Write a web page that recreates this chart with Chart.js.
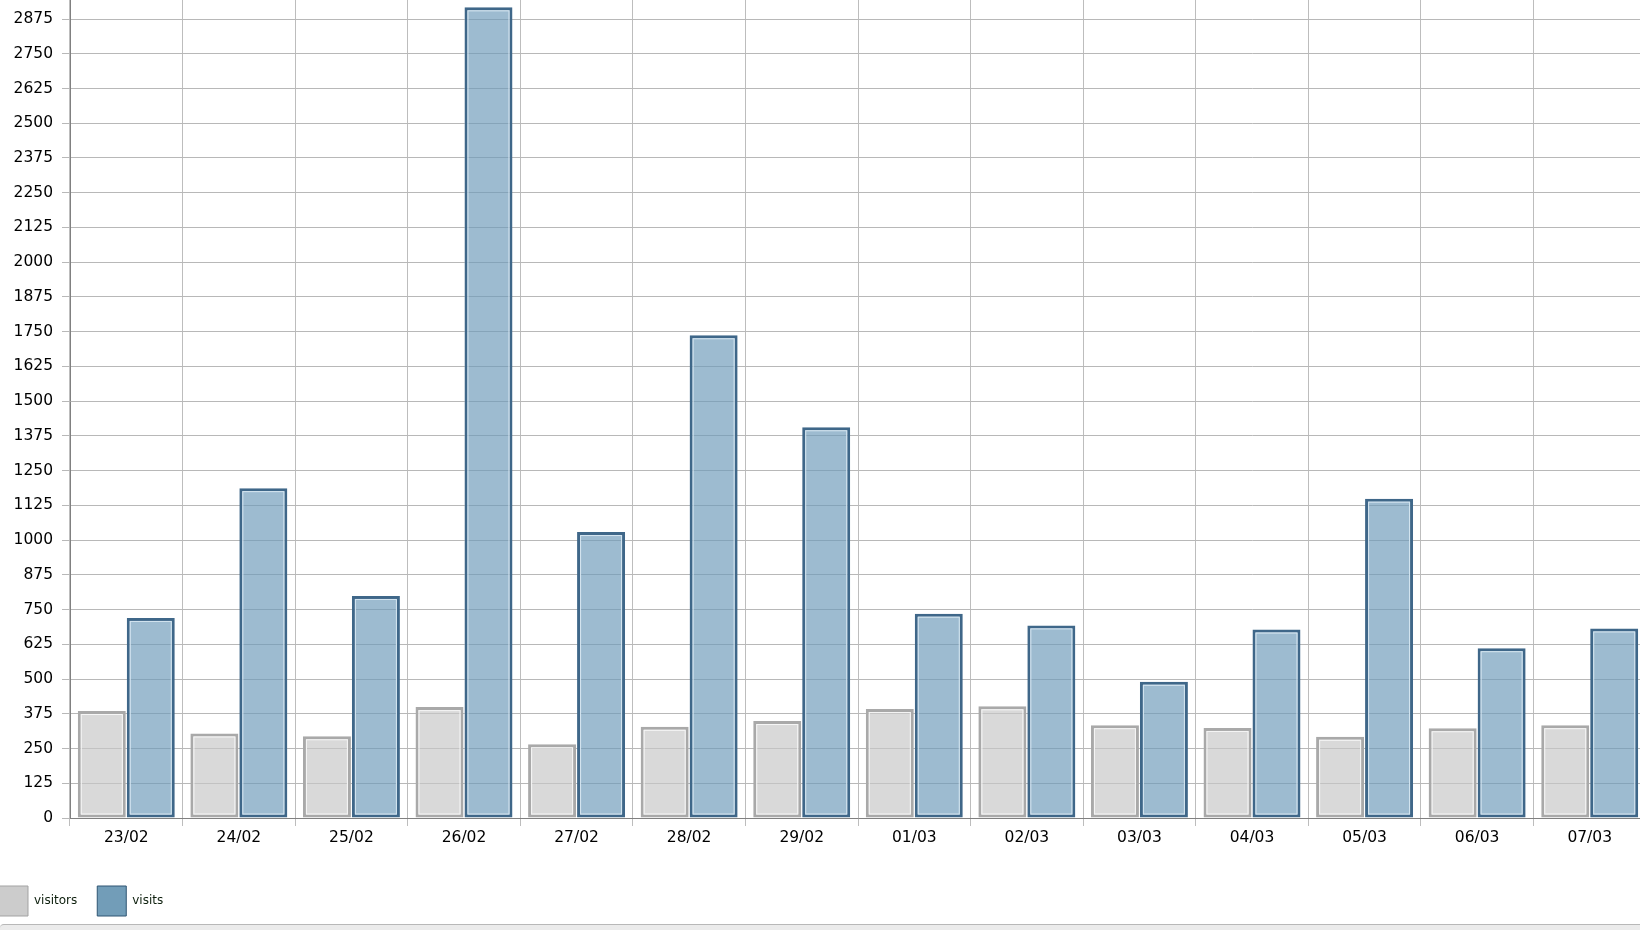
<!DOCTYPE html>
<html>
<head>
<meta charset="utf-8">
<script src="https://cdn.jsdelivr.net/npm/chart.js@4/dist/chart.umd.min.js"></script>
<style>
  html, body { margin: 0; padding: 0; background: #fff; overflow: hidden; }
  #page { position: relative; width: 1640px; height: 930px; overflow: hidden; }
  #box { position: absolute; left: -21px; top: -34px; width: 1667px; height: 960px; }
  #strip { position: absolute; left: 0; top: 924px; width: 1640px; height: 6px;
           background: #ebebeb; border-top: 1px solid #b8b8b8; border-top-left-radius: 4px; }
</style>
</head>
<body>
<div id="page">
  <div id="box"><canvas id="myChart" width="1667" height="960"></canvas></div>
  <div id="strip"></div>
</div>
<script>
// data
const days = ["23/02", "24/02", "25/02", "26/02", "27/02", "28/02", "29/02",
              "01/03", "02/03", "03/03", "04/03", "05/03", "06/03", "07/03"];
const visitors = [385, 304, 294, 399, 265, 328, 349, 392, 402, 334, 324, 292, 323, 334];
const visits = [720, 1187, 799, 2917, 1029, 1737, 1406, 735, 693, 490, 678, 1149, 611, 682];

// colours
const barFill = ["rgba(199,199,199,0.67)", "rgba(109,154,185,0.67)"];
const barBorder = ["#a9a9a9", "#3f6789"];
const innerColor = ["#f6f6f6", "#d6e6f1"];
const legendFill = ["#cccccc", "#729db8"];
const legendBorder = ["#a3a3a3", "#2f5573"];

// light line just inside each bar's border
const innerLine = {
  id: "innerLine",
  afterDatasetsDraw(chart) {
    const ctx = chart.ctx;
    chart.data.datasets.forEach((ds, i) => {
      const meta = chart.getDatasetMeta(i);
      ctx.save();
      ctx.strokeStyle = innerColor[i];
      ctx.lineWidth = 1;
      meta.data.forEach((bar) => {
        const p = bar.getProps(["x", "y", "base", "width"], true);
        const left = p.x - p.width / 2;
        ctx.strokeRect(left + 3.5, p.y + 3.5, p.width - 7, p.base - p.y - 7);
      });
      ctx.restore();
    });
  },
};

const data = {
  labels: days,
  datasets: [
    {
      label: "visitors",
      data: visitors,
      backgroundColor: barFill[0],
      borderColor: barBorder[0],
      borderWidth: 3,
      borderSkipped: false,
    },
    {
      label: "visits",
      data: visits,
      backgroundColor: barFill[1],
      borderColor: barBorder[1],
      borderWidth: 3,
      borderSkipped: false,
    },
  ],
};

const config = {
  type: "bar",
  data: data,
  plugins: [innerLine],
  options: {
    responsive: false,
    animation: false,
    categoryPercentage: 0.87,
    barPercentage: 0.98,
    layout: { padding: 0 },
    plugins: {
      tooltip: { enabled: false },
      legend: {
        position: "bottom",
        align: "start",
        labels: {
          boxWidth: 29,
          boxHeight: 30,
          padding: 20,
          color: "#0d1f0d",
          font: { family: "DejaVu Sans", size: 12 },
          generateLabels: (chart) =>
            Chart.defaults.plugins.legend.labels.generateLabels(chart).map((item, i) => {
              item.fillStyle = legendFill[i];
              item.strokeStyle = legendBorder[i];
              item.lineWidth = 1;
              return item;
            }),
        },
      },
    },
    scales: {
      x: {
        grid: { color: "#bdbdbd", tickLength: 8, offset: true },
        border: { color: "#808080" },
        ticks: {
          color: "#000",
          padding: 3,
          maxRotation: 0,
          font: { family: "DejaVu Sans", size: 15.5 },
        },
        afterFit: (scale) => { scale.height = 48; },
      },
      y: {
        min: 0,
        max: 3000,
        grid: { color: "#b8b8b8", tickLength: 8 },
        border: { color: "#808080" },
        ticks: {
          stepSize: 125,
          color: "#000",
          padding: 9,
          font: { family: "DejaVu Sans", size: 15.5 },
          callback: (value) => String(value),
        },
        afterFit: (scale) => { scale.width = 91; },
      },
    },
  },
};

const ctx = document.getElementById("myChart").getContext("2d");
new Chart(ctx, config);
</script>
</body>
</html>
